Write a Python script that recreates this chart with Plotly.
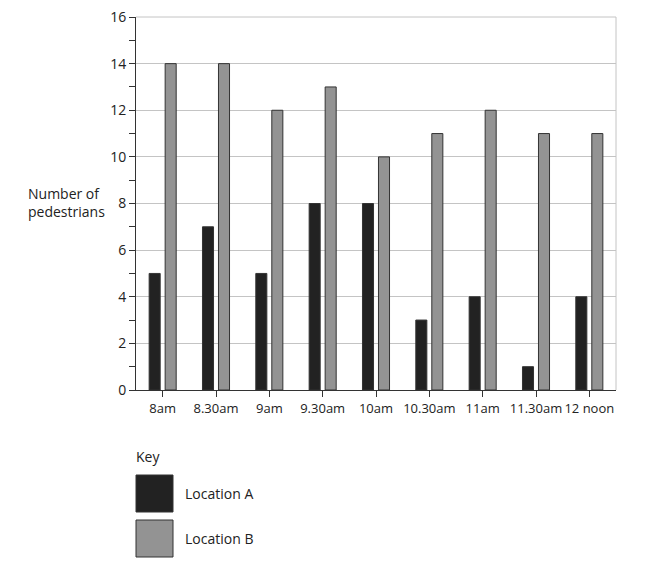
import plotly.graph_objects as go

# pedestrian counts
times      = ['8am', '8.30am', '9am', '9.30am', '10am', '10.30am', '11am', '11.30am', '12 noon']
locationA  = [5, 7, 5, 8, 8, 3, 4, 1, 4]
locationB  = [14, 14, 12, 13, 10, 11, 12, 11, 11]
seriesNames   = ['Location A', 'Location B']
seriesColours = ['#222222', '#939393']
yTicks     = [0, 2, 4, 6, 8, 10, 12, 14, 16]

fontFam  = 'Open Sans, Lato, sans-serif'
edge     = '#333333'
grid     = '#c4c4c4'
W, H     = 655, 571
# the page puts the figure 8px in from the corner, so margins are shifted by that
pad      = 8
left, right, top, bottom = 136, 616, 17, 390
plotW, plotH = right - left, bottom - top

fig = go.Figure()
for name, vals, col in zip(seriesNames, [locationA, locationB], seriesColours):
    fig.add_trace(go.Bar(x=times, y=vals, name=name,
                         marker=dict(color=col, line=dict(color=edge, width=1))))

fig.update_layout(
    width=W, height=H,
    margin=dict(l=left - pad, r=W - right + pad, t=top - pad, b=H - bottom + pad, autoexpand=False),
    paper_bgcolor='white', plot_bgcolor='white',
    barmode='group', bargap=0.4, bargroupgap=0.31,
    showlegend=False,
    font=dict(family=fontFam, size=14, color='#222222'),
)
fig.update_xaxes(showline=True, linecolor=edge, linewidth=1,
                 ticks='outside', ticklen=6, tickcolor=edge, tickangle=0,
                 showgrid=False, tickfont=dict(size=13), automargin=False)
fig.update_yaxes(range=[0, 16], tickvals=yTicks, showline=True, linecolor=edge, linewidth=1,
                 ticks='outside', ticklen=6, tickcolor=edge, ticklabeloverflow='allow',
                 minor=dict(dtick=1, ticks='outside', ticklen=6, tickcolor=edge, showgrid=False),
                 showgrid=True, gridcolor=grid, gridwidth=1,
                 zeroline=False, tickfont=dict(size=14), automargin=False)

# light top and right borders of the plot area
fig.add_shape(type='line', xref='paper', yref='paper', x0=1, x1=1, y0=0, y1=1,
              line=dict(color=grid, width=1))
fig.add_shape(type='line', xref='paper', yref='paper', x0=0, x1=1, y0=1, y1=1,
              line=dict(color=grid, width=1))

def px(x):
    return (x - left) / plotW

def py(y):
    return (bottom - y) / plotH

fig.add_annotation(text='Number of<br>pedestrians', xref='paper', yref='paper',
                   x=px(26), y=py(202), xanchor='left', yanchor='middle', align='left',
                   showarrow=False, font=dict(size=14))

# key below the chart
fig.add_annotation(text='Key', xref='paper', yref='paper', x=px(134), y=py(456),
                   xanchor='left', yanchor='middle', showarrow=False, font=dict(size=14))
for i, (name, col) in enumerate(zip(seriesNames, seriesColours)):
    boxTop = 475 + i * 45
    fig.add_shape(type='rect', xref='paper', yref='paper',
                  x0=px(136), x1=px(173), y0=py(boxTop + 37), y1=py(boxTop),
                  fillcolor=col, line=dict(color=edge, width=1))
    fig.add_annotation(text=name, xref='paper', yref='paper', x=px(183), y=py(boxTop + 18),
                       xanchor='left', yanchor='middle', showarrow=False, font=dict(size=14))

fig.write_html('out.html')
